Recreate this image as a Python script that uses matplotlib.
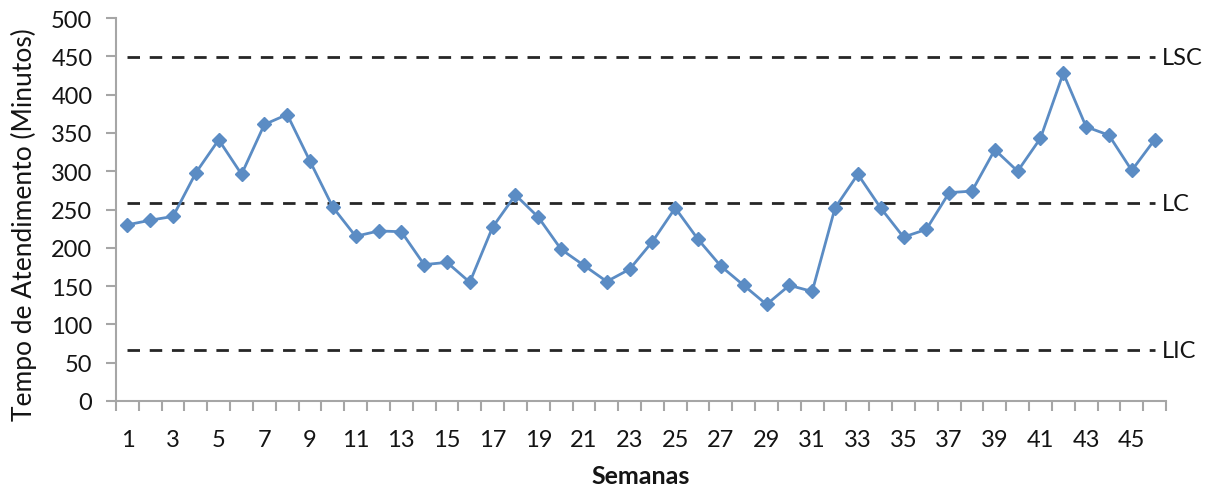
import matplotlib
matplotlib.use("Agg")
import matplotlib.pyplot as plt
import numpy as np

plt.rcParams['font.family'] = ['Lato', 'DejaVu Sans']

semanas = list(range(1, 47))
tempo = [230, 236, 241, 298, 341, 296, 361, 374, 313, 253,
         215, 222, 221, 178, 181, 155, 227, 269, 240, 198,
         177, 156, 172, 208, 252, 211, 176, 151, 126, 151,
         143, 252, 296, 252, 214, 224, 272, 274, 328, 300,
         343, 428, 358, 347, 301, 341]

limites = {"LSC": 449, "LC": 258, "LIC": 66}

fig = plt.figure(figsize=(12.17, 4.89), dpi=100)
ax = fig.add_axes([116 / 1217, 1 - 402 / 489, 1050 / 1217, 383 / 489])

axis_gray = '#A6A6A6'
text_color = '#141414'
for nome, valor in limites.items():
    ax.plot([semanas[0], semanas[-1]], [valor, valor], color='#262626',
            linestyle=(0, (4.5, 3.5)), linewidth=2.0, zorder=2)
    ax.text(semanas[-1] + 0.3, valor, nome, fontsize=17, va='center', ha='left',
            color=text_color, clip_on=False)

ax.plot(semanas, tempo, color='#5B8CC4', linewidth=2.0, marker='D',
        markersize=7.5, markerfacecolor='#5B8CC4', markeredgecolor='#5B8CC4', zorder=3)

ax.set_xlim(0.5, len(semanas) + 0.5)
ax.set_ylim(0, 500)

ax.set_yticks(np.arange(0, 501, 50))
ax.tick_params(axis='y', length=7, width=1.5, color=axis_gray, labelsize=17,
               labelcolor=text_color, pad=10)

ax.set_xticks(semanas[::2])
ax.set_xticklabels([str(s) for s in semanas[::2]])
ax.set_xticks(np.arange(0.5, len(semanas) + 1, 1), minor=True)
ax.tick_params(axis='x', which='major', length=0, labelsize=17,
               labelcolor=text_color, pad=20)
ax.tick_params(axis='x', which='minor', length=7, width=1.5, color=axis_gray)

for s in ['top', 'right']:
    ax.spines[s].set_visible(False)
for s in ['left', 'bottom']:
    ax.spines[s].set_color(axis_gray)
    ax.spines[s].set_linewidth(1.5)

ax.set_ylabel('Tempo de Atendimento (Minutos)', fontsize=19, color=text_color)
ax.yaxis.set_label_coords(-0.0752, 0.462)
ax.set_xlabel('Semanas', fontsize=18, fontweight='bold', color=text_color, labelpad=10)

fig.savefig('out.png', dpi=100)
